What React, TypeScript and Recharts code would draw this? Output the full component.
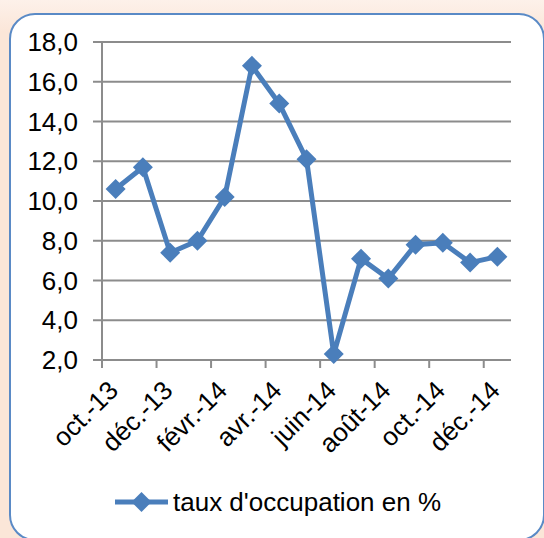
import { CartesianGrid, Line, LineChart, XAxis, YAxis } from "recharts";

const months = [
  "oct.-13",
  "nov.-13",
  "déc.-13",
  "janv.-14",
  "févr.-14",
  "mars-14",
  "avr.-14",
  "mai-14",
  "juin-14",
  "juil.-14",
  "août-14",
  "sept.-14",
  "oct.-14",
  "nov.-14",
  "déc.-14",
];
const occupation = [
  10.6, 11.7, 7.4, 8.0, 10.2, 16.8, 14.9, 12.1, 2.3, 7.1, 6.1, 7.8, 7.9, 6.9,
  7.2,
];
const yTicks = [2, 4, 6, 8, 10, 12, 14, 16, 18];
const seriesName = "taux d'occupation en %";

const BLUE = "#4a7ebb";
const GRID = "#8c8c8c";
const FONT = "'Liberation Sans', Arial, sans-serif";

const W = 544;
const H = 538;
const PLOT_LEFT = 102;
const PLOT_RIGHT = 511;
const BAND = (PLOT_RIGHT - PLOT_LEFT) / months.length;

type Row = { month: string; value: number };
const data: Row[] = months.map((m, i) => ({ month: m, value: occupation[i] }));

// recharts passes its own r to the dot, so the size lives in another prop
const Diamond = (props: any) => {
  const { cx, cy, half = 10 } = props;
  if (cx == null || cy == null) return null;
  return (
    <polygon
      points={`${cx},${cy - half} ${cx + half},${cy} ${cx},${cy + half} ${cx - half},${cy}`}
      fill={BLUE}
    />
  );
};

const MonthTick = (props: any) => {
  const { x, y, payload } = props;
  const bx = x - BAND / 2;
  return (
    <g>
      <line x1={bx} x2={bx} y1={y} y2={y + 8} stroke={GRID} strokeWidth={2} />
      <g transform={`translate(${x + 4},${y + 32})`}>
        <text
          transform="rotate(-45)"
          textAnchor="end"
          fontSize={26}
          fontFamily={FONT}
          fill="#000"
        >
          {payload.value}
        </text>
      </g>
    </g>
  );
};

export default function App() {
  return (
    <div
      style={{
        position: "absolute",
        left: 0,
        top: 0,
        width: W,
        height: H,
        overflow: "hidden",
        background: "linear-gradient(180deg, #fdf1ea 0%, #fbe6d8 6%, #fbe6d8 100%)",
      }}
    >
      <div
        style={{
          position: "absolute",
          left: 9,
          top: 13,
          width: 536,
          height: 528,
          borderRadius: 26,
          border: "2px solid #5a8ac6",
          background: "#ffffff",
          boxSizing: "border-box",
        }}
      />
      <div style={{ position: "absolute", left: 0, top: 0 }}>
        <LineChart
          width={W}
          height={H}
          data={data}
          margin={{ top: 42, right: W - PLOT_RIGHT, left: 0, bottom: 0 }}
        >
          <CartesianGrid
            vertical={false}
            stroke={GRID}
            strokeWidth={2}
            horizontalValues={yTicks}
          />
          <XAxis
            dataKey="month"
            interval={1}
            height={178}
            padding={{ left: BAND / 2, right: BAND / 2 }}
            tickSize={0}
            tickMargin={0}
            axisLine={{ stroke: GRID, strokeWidth: 2 }}
            tickLine={false}
            tick={<MonthTick />}
          />
          <YAxis
            width={PLOT_LEFT}
            domain={[2, 18]}
            ticks={yTicks}
            interval={0}
            tickSize={9}
            tickMargin={15}
            axisLine={{ stroke: GRID, strokeWidth: 2 }}
            tickLine={{ stroke: GRID, strokeWidth: 2 }}
            tick={{ fontSize: 26, fontFamily: FONT, fill: "#000" }}
            tickFormatter={(v: number) => v.toFixed(1).replace(".", ",")}
          />
          <Line
            type="linear"
            dataKey="value"
            name={seriesName}
            stroke={BLUE}
            strokeWidth={5}
            dot={<Diamond />}
            activeDot={false}
            isAnimationActive={false}
          />
        </LineChart>
      </div>
      <svg
        width={W}
        height={40}
        style={{ position: "absolute", left: 0, top: 482 }}
      >
        <line x1={115} x2={168} y1={20} y2={20} stroke={BLUE} strokeWidth={5} />
        <Diamond cx={141.5} cy={20} half={10} />
        <text x={173} y={29} fontSize={26} fontFamily={FONT} fill="#000">
          {seriesName}
        </text>
      </svg>
    </div>
  );
}
